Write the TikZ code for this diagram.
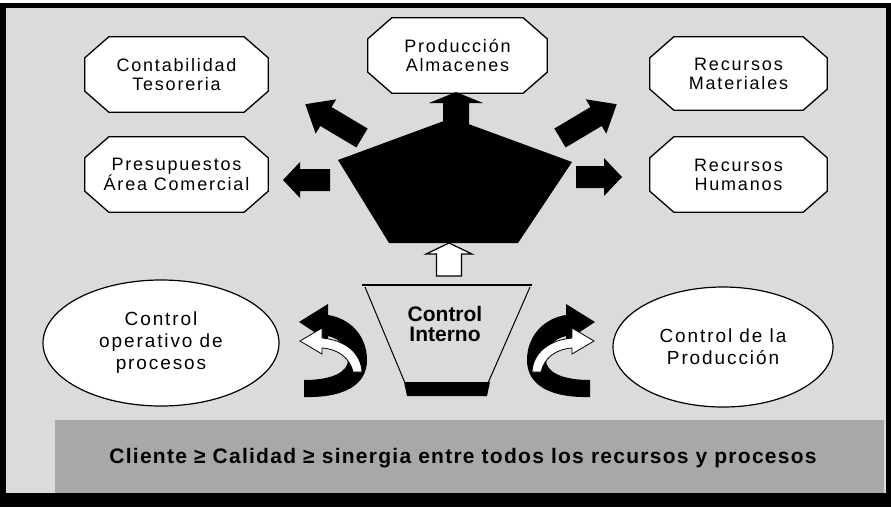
\documentclass[tikz,border=0pt]{standalone}
\usepackage{fontspec}
\setmainfont{Liberation Sans}
\newfontfamily\spaced[LetterSpace=10]{Liberation Sans}
\newfontfamily\bandfont[LetterSpace=6]{Liberation Sans}
\usetikzlibrary{shapes.geometric,calc}
\pgfdeclarelayer{bg}
\pgfdeclarelayer{mid}
\pgfsetlayers{bg,mid,main}
\definecolor{bgc}{gray}{0.86}
\definecolor{bandc}{gray}{0.66}
\newcommand\octagon[3]{% node, dx, dy
  \draw[octo] ([xshift=#2]#1.north west) -- ([xshift=-#2]#1.north east)
    -- ([yshift=-#3]#1.north east) -- ([yshift=#3]#1.south east)
    -- ([xshift=-#2]#1.south east) -- ([xshift=#2]#1.south west)
    -- ([yshift=#3]#1.south west) -- ([yshift=-#3]#1.north west) -- cycle;}
\newcommand\blockarrow[7][fill=black]{% opts, tail, angle, length, head length, head half width, shaft half width
  \path[#1,shift={#2},rotate=#3] (0,-#7) -- ({#4-#5},-#7) -- ({#4-#5},-#6) -- (#4,0)
    -- ({#4-#5},#6) -- ({#4-#5},#7) -- (0,#7) -- cycle;}
\newcommand\curvedarrow{%
  \fill[black] (590,397) .. controls (550,398) and (527,385) .. (527,360)
    .. controls (527,335) and (545,318) .. (566,315) -- (566,304) -- (595,322)
    -- (566,341) -- (566,336) .. controls (552,339) and (546,350) .. (546,360)
    .. controls (546,372) and (562,380) .. (590,380) -- cycle;
  \filldraw[fill=white,draw=black,line width=0.8pt] (532,372)
    .. controls (533,352) and (550,340) .. (572,338) -- (572,328) -- (594,341)
    -- (572,354) -- (572,348) .. controls (556,349) and (544,358) .. (541,372) -- cycle;}
\begin{document}
\begin{tikzpicture}[x=1pt,y=-1pt,
  boxtext/.style={font=\spaced\fontsize{18}{19}\selectfont, align=center, inner sep=0pt},
  octo/.style={fill=white, draw=black, line width=1.3pt},
  ell/.style={ellipse, draw=black, fill=white, line width=1.2pt, inner sep=0pt,
    font=\spaced\fontsize{19}{22}\selectfont, align=center},
  ctext/.style={font=\bfseries\fontsize{21}{20}\selectfont, align=center, inner sep=0pt},
  bandtext/.style={font=\bandfont\bfseries\fontsize{21}{22}\selectfont, inner sep=0pt}]
\useasboundingbox (0,0) rectangle (891,507);
\begin{pgfonlayer}{bg}
  \fill[white] (0,0) rectangle (891,507);
  \fill[black] (0,3) rectangle (891,507);
  \fill[bgc] (6,8) rectangle (886,493);
  \fill[bandc] (55,420) rectangle (884,493);
\end{pgfonlayer}

% octagon boxes
\node[boxtext, minimum width=183pt, minimum height=75pt] (conta) at (176.5,74.5) {Contabilidad\\Tesoreria};
\node[boxtext, minimum width=183pt, minimum height=75pt] (presu) at (176.5,174.5) {Presupuestos\\Área Comercial};
\node[boxtext, minimum width=179pt, minimum height=75pt, text depth=0pt] (prod) at (457.5,55.5) {Producción\\Almacenes};
\node[boxtext, minimum width=177pt, minimum height=73pt] (rmat) at (738.5,73.5) {Recursos\\Materiales};
\node[boxtext, minimum width=177pt, minimum height=75pt] (rhum) at (738.5,174.5) {Recursos\\Humanos};
\begin{pgfonlayer}{mid}
  \octagon{conta}{24pt}{21pt}
  \octagon{presu}{24pt}{21pt}
  \octagon{prod}{24pt}{21pt}
  \octagon{rmat}{24pt}{21pt}
  \octagon{rhum}{24pt}{21pt}
\end{pgfonlayer}

% central pentagon and arrows
\fill[black] (338,160) -- (452,118) -- (572,162) -- (518,243) -- (389,243) -- cycle;
\blockarrow{(456,128)}{90}{36}{11}{27}{13}
\blockarrow{(362,138)}{149.2}{66}{24}{20}{11}
\blockarrow{(560,138)}{30.8}{66}{24}{20}{11}
\blockarrow{(330,180)}{180}{47}{17}{18}{11}
\blockarrow{(576,177)}{0}{46}{18}{19}{11}
\blockarrow[fill=white,draw=black,line width=1.2pt]{(449,276)}{90}{33}{11}{23}{12.5}

% Control Interno funnel
\draw[line width=1.6pt] (362,285) -- (532,285);
\draw[line width=1pt] (365,287) -- (405,383);
\draw[line width=1pt] (530,287) -- (488,383);
\fill[black] (404,382) -- (490,382) -- (487,396) -- (407,396) -- cycle;
\node[ctext] (ci) at (445,324) {Control\\Interno};

% ellipses
\node[ell, minimum width=236pt, minimum height=126pt] (cop) at (161,343) {Control\\operativo de\\procesos};
\node[ell, minimum width=220pt, minimum height=120pt] (cpr) at (723,347) {Control de la\\Producción};

% curved arrows
\curvedarrow
\begin{scope}[shift={(894,0)},xscale=-1]
  \curvedarrow
\end{scope}

% bottom band text
\node[bandtext, anchor=base] (band) at (463,463) {Cliente ≥ Calidad ≥ sinergia entre todos los recursos y procesos};
\end{tikzpicture}
\end{document}
